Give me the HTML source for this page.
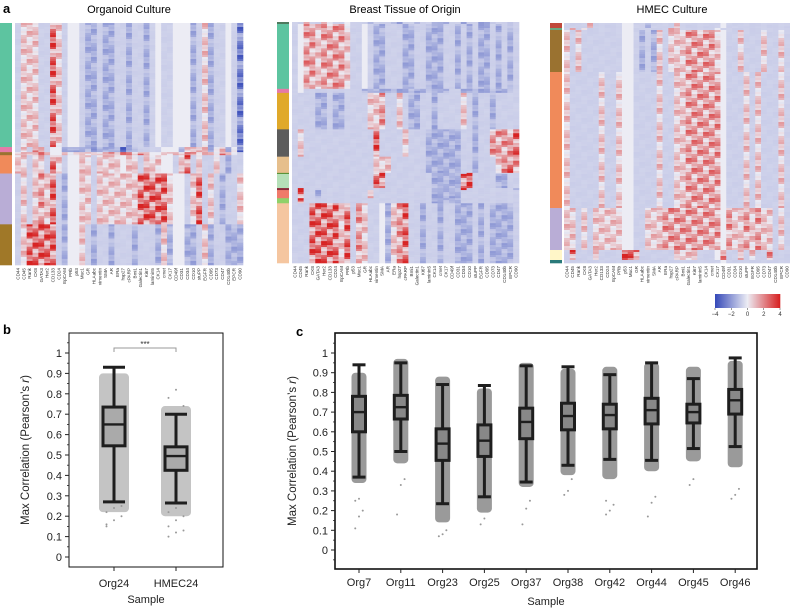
<!DOCTYPE html>
<html><head><meta charset="utf-8"><style>
html,body{margin:0;padding:0;background:#fff;}
svg{display:block;font-family:"Liberation Sans",Arial,sans-serif;}
</style></head><body>
<svg id="fig" width="790" height="611" viewBox="0 0 790 611" xmlns="http://www.w3.org/2000/svg">
<text x="3" y="13" font-size="13" font-weight="bold">a</text>
<text x="3" y="334" font-size="13" font-weight="bold">b</text>
<text x="296" y="336" font-size="13" font-weight="bold">c</text>
<text x="129" y="13" font-size="11" text-anchor="middle">Organoid Culture</text>
<text x="405" y="13" font-size="11" text-anchor="middle">Breast Tissue of Origin</text>
<text x="672" y="13" font-size="11" text-anchor="middle">HMEC Culture</text>
<g id="heat"></g>
<g id="pb"></g>
<g id="pc"></g>
</svg>
<script>
const NS="http://www.w3.org/2000/svg";
function mk(tag,attrs,parent){const e=document.createElementNS(NS,tag);for(const k in attrs)e.setAttribute(k,attrs[k]);parent.appendChild(e);return e;}

// ---------- heatmap data ----------
const markers=["CD44","CD45","Rank","CK8","GATA3","Her2","CD133","CD24","EpCAM","PRb","p53","Muc1","GR","HLAabc","vimentin","SMA","AR","ERa","hsp27","cPARP","Bmi1","Galectin1","Ki67","laminin5","CK14","cmet","CK17","CD49f","CD31","CD34","CD10","stuPP","EGFR","CD95","CD73","CD47","CD140b","EPCR","CD90"];
const levelCodes={B:-2.6,b:-1.5,l:-0.7,w:0,p:0.8,r:1.6,R:2.6};
const orgColors=["#5dc4a0","#e57aa8","#9a7230","#f08a5a","#b9add6","#a07828"];
const orgSizes=[122,5,3,18,50,40];
const orgPatterns=[
"lpppllRplwwlbblbbllbllblwllwwwblpbllwlB",
"lplRplwwbBbbbBbbbbBbbllllwwwbpprpbppbpB",
"pppRrpwwpppppppprrrrrrpwwpprprrpppprppl",
"pplpplRplwwpplppppwpplpppwwlpRlpllplbll",
"lplprpRlbwwpplpppppppRRRRRpwwlpRlplbllp",
"lpRRRRRlbwwplbllblllblllbpbwwbblpbllbbb"];
const brColors=["#4e7a5e","#5dc4a0","#e57aa8","#e0a92a","#5c5c5c","#e6bf8c","#4f8a2a","#b5e0b8","#8a2a3a","#f07a6a","#8fd16a","#f5c6a0"];
const brSizes=[2,64,4,36,27,16,1,14,2,8,5,59];
const brPatterns=[
"llpllppllwlllblllbbllbllbbbllbllbbbllbl",
"lwrrprrrrpllwlbblllbbllbbbllblblbblblbl",
"lwllllllllllbbbbbbbbbbbbbbbllbbbbbbbbbl",
"llllbblbbllllpprllplbbllbllllplbllbllll",
"lpllllllllllllRllllplllbbbbbbllbllrrrrR",
"llllllllllllllpppllllllbbbbbbllblllprRr",
"llllllllllllllpRllllllllbbbbblRllllllll",
"llllllllllllllRRllllllllbbbbbRRllllbbll",
"lRllllllllllllllllllllllbbbbbRllllllllb",
"lRllbllllllllpllllllllllbbbbbllllllllll",
"lRllllllllllllllllllllllbbbbbllllllllll",
"lllRRRRRpRlrpllwbprRllbllbllbbblblbbbbl"];
const hmColors=["#c0483a","#6aa880","#9a7230","#f08a5a","#b9add6","#fff6c8","#2a7a7a"];
const hmSizes=[5,2,42,136,42,10,3];
const hmPatterns=[
"llllplllllwwllbllllplllllllwllllllllll",
"lplpllllllwwllllllppllllllwlllllllllll",
"plplllllllwwlblbplppprrrrrpwllplllpllpl",
"plllllpllpwwllllpllpprrrrrrwlllplplllpl",
"pplplpppppwwllppprrrrrrrrrrwrpprprpplpl",
"lRlllpllllRRRllllllpppplllwrllplpllrlll",
"lllllllllllllllllllllllllllwlllllllllll"];
const rowMod=[0.5,1.3,0.9,1.5,0.3,1.0,1.4,0.7,1.2,0.6,1.1,0.8,1.6,0.4];

function val2col(v){
  const t=Math.max(-4,Math.min(4,v))/4;
  const w=[236,236,244],b=[55,75,185],r=[215,35,35];
  const c=t<0?b:r,a=Math.abs(t);
  return "rgb("+w.map((x,i)=>Math.round(x+(c[i]-x)*a)).join(",")+")";
}

const heat=document.getElementById("heat");
function drawHeat(name,sideX,hx,hx2,y0,y1,colors,sizes,patterns){
  const g=mk("g",{},heat);
  
  
  const tot=sizes.reduce((a,b)=>a+b,0);
  const n=markers.length, cw=(hx2-hx)/n;
  let y=y0;
  sizes.forEach((s,ci)=>{
    const h=s/tot*(y1-y0);
    const sb=mk("rect",{x:sideX,y:y,width:12,height:h+0.3,fill:colors[ci]},g);
    
    
    let p=patterns[ci];
    while(p.length<n)p+="l";
    for(let j=0;j<n;j++){
      const base=levelCodes[p[j]]||0;
      const rows=Math.max(1,Math.round(h/2));
      const rh=h/rows;
      for(let k=0;k<rows;k++){
        const m=rowMod[(k*5+j*3)%rowMod.length];
        const v=base*m+(base===0?0:(m-1)*0.6);
        const c=mk("rect",{x:hx+j*cw,y:y+k*rh,width:cw+0.3,height:rh+0.3,fill:val2col(v)},g);
        
        
      }
    }
    y+=h;
  });
  markers.forEach((m,j)=>{
    const x=hx+(j+0.5)*cw+1.5;
    const t=mk("text",{x:x,y:y1+3,"font-size":4.6,fill:"#333","text-anchor":"end",transform:"rotate(-90 "+x+" "+(y1+3)+")"},g);
    t.textContent=m;
    
    
  });
}
drawHeat("organoid-heatmap",0,15,243,23,265,orgColors,orgSizes,orgPatterns);
drawHeat("breast-heatmap",277,292,519,22,263,brColors,brSizes,brPatterns);
drawHeat("hmec-heatmap",550,564,790,23,263,hmColors,hmSizes,hmPatterns);

const cbTicks=[-4,-2,0,2,4];
(function(){
  const g=mk("g",{},heat);
  
  
  const x0=715,x1=780;
  for(let i=0;i<65;i++){
    const v=-4+8*i/64;
    mk("rect",{x:x0+i,y:294,width:1.3,height:14,fill:val2col(v)},g);
  }
  cbTicks.forEach(t=>{
    const x=x0+(t+4)/8*(x1-x0);
    mk("line",{x1:x,x2:x,y1:308,y2:310,stroke:"#333","stroke-width":0.5},g);
    const tx=mk("text",{x:x,y:316,"font-size":6,"text-anchor":"middle",fill:"#333"},g);
    tx.textContent=t===0?"0":(t<0?"\u2212"+(-t):t);
    
    
  });
})();

// ---------- box plot data ----------
const bCats=["Org24","HMEC24"];
const bLow=[0.27,0.265], bQ1=[0.545,0.425], bMed=[0.65,0.495], bQ3=[0.735,0.54], bHigh=[0.93,0.70];
const bOutliers=[[0.16,0.18,0.2,0.22,0.24,0.25,0.15],[0.1,0.12,0.13,0.15,0.18,0.2,0.22,0.24,0.74,0.78,0.82]];
const bCloudLo=[0.22,0.2], bCloudHi=[0.9,0.74];
const cCats=["Org7","Org11","Org23","Org25","Org37","Org38","Org42","Org44","Org45","Org46"];
const cLow=[0.37,0.50,0.235,0.27,0.345,0.43,0.46,0.455,0.515,0.525];
const cQ1=[0.60,0.665,0.455,0.475,0.565,0.61,0.615,0.64,0.645,0.69];
const cMed=[0.70,0.725,0.54,0.555,0.65,0.68,0.685,0.71,0.70,0.76];
const cQ3=[0.78,0.785,0.615,0.635,0.72,0.745,0.74,0.77,0.74,0.815];
const cHigh=[0.94,0.95,0.84,0.835,0.935,0.93,0.89,0.95,0.87,0.975];
const cCloudLo=[0.34,0.44,0.14,0.19,0.32,0.38,0.36,0.40,0.45,0.42];
const cCloudHi=[0.9,0.97,0.88,0.82,0.95,0.92,0.93,0.95,0.93,0.96];
const cOutliers=[[0.11,0.17,0.2,0.25,0.26],[0.18,0.33,0.36],[0.07,0.08,0.1],[0.13,0.16,0.2],[0.13,0.21,0.25],[0.28,0.3,0.36],[0.18,0.2,0.23,0.25],[0.17,0.24,0.27],[0.33,0.36],[0.26,0.28,0.31]];
const yTicks=[0,0.1,0.2,0.3,0.4,0.5,0.6,0.7,0.8,0.9,1];

function boxPanel(gid,box,yScale,xScale,cats,low,q1,med,q3,high,outl,cloudLo,cloudHi,bw,cloudW,cloudFill,fill,lw,labX,lblY,sampleY){
  const g=document.getElementById(gid);
  
  
  const fr=mk("rect",{x:box.x0,y:box.y0,width:box.x1-box.x0,height:box.y1-box.y0,fill:"none",stroke:"#111","stroke-width":gid==="pb"?1:1.6},g);
  
  
  yTicks.forEach(t=>{
    const y=yScale(t);
    mk("line",{x1:box.x0,x2:box.x0-4,y1:y,y2:y,stroke:"#222","stroke-width":1},g);
    const ym=yScale(t+0.05);
    if(ym>box.y0) mk("line",{x1:box.x0,x2:box.x0-2,y1:ym,y2:ym,stroke:"#222","stroke-width":0.8},g);
    const tx=mk("text",{x:box.x0-7,y:y+4,"font-size":11,"text-anchor":"end",fill:"#222"},g);
    tx.textContent=String(t);
    
    
  });
  const ym0=yScale(-0.05); if(ym0<box.y1) mk("line",{x1:box.x0,x2:box.x0-2,y1:ym0,y2:ym0,stroke:"#222","stroke-width":0.8},g);
  const cy=(box.y0+box.y1)/2;
  const yl=mk("text",{x:labX,y:cy,"font-size":11.5,"text-anchor":"middle",fill:"#222",transform:"rotate(-90 "+labX+" "+cy+")"},g);
  yl.innerHTML="Max Correlation (Pearson\u2019s <tspan font-style='italic'>r</tspan>)";
  
  
  const xl=mk("text",{x:(box.x0+box.x1)/2,y:sampleY,"font-size":11,"text-anchor":"middle",fill:"#222"},g);
  xl.textContent="Sample";
  
  
  cats.forEach((c,i)=>{
    const x=xScale(i);
    const cl=mk("rect",{x:x-cloudW/2,y:yScale(cloudHi[i]),width:cloudW,height:yScale(cloudLo[i])-yScale(cloudHi[i]),fill:cloudFill,rx:4},g);
    
    
    outl[i].forEach((v,k)=>{
      const d=mk("circle",{cx:x+((k%3)-1)*cloudW*0.25,cy:yScale(v),r:1,fill:"#999"},g);
      
      
    });
    const wk=mk("line",{x1:x,x2:x,y1:yScale(low[i]),y2:yScale(high[i]),stroke:"#1e1e1e","stroke-width":lw},g);
    
    
    [low[i],high[i]].forEach(v=>{
      const cp=mk("line",{x1:x-bw/2,x2:x+bw/2,y1:yScale(v),y2:yScale(v),stroke:"#1e1e1e","stroke-width":lw},g);
      
      
    });
    const bx=mk("rect",{x:x-bw/2,y:yScale(q3[i]),width:bw,height:yScale(q1[i])-yScale(q3[i]),fill:fill,stroke:"#1e1e1e","stroke-width":lw},g);
    
    
    const md=mk("line",{x1:x-bw/2,x2:x+bw/2,y1:yScale(med[i]),y2:yScale(med[i]),stroke:"#1e1e1e","stroke-width":lw*0.8},g);
    
    
    mk("line",{x1:x,x2:x,y1:box.y1,y2:box.y1+4,stroke:"#222","stroke-width":1},g);
    const tl=mk("text",{x:x,y:lblY,"font-size":11,"text-anchor":"middle",fill:"#222"},g);
    tl.textContent=c;
    
    
  });
  return g;
}
const bBox={x0:69,x1:223,y0:333,y1:567};
const bY=v=>557-v*204, bX=i=>114+i*62;
const gb=boxPanel("pb",bBox,bY,bX,bCats,bLow,bQ1,bMed,bQ3,bHigh,bOutliers,bCloudLo,bCloudHi,22,30,"#c4c4c4","#aaa",3,29,587,603);
(function(){
  const y=bY(1.0)-5;
  const br=mk("path",{d:"M"+bX(0)+" "+(y+4)+"V"+y+"H"+bX(1)+"V"+(y+4),fill:"none",stroke:"#999","stroke-width":1},gb);
  
  
  const st=mk("text",{x:(bX(0)+bX(1))/2,y:y-1,"font-size":8,"text-anchor":"middle",fill:"#333"},gb);
  st.textContent="***";
  
  
})();
const cBox={x0:335,x1:757,y0:333,y1:569};
const cY=v=>550-v*197, cX=i=>359+i*41.8;
const gc=boxPanel("pc",cBox,cY,cX,cCats,cLow,cQ1,cMed,cQ3,cHigh,cOutliers,cCloudLo,cCloudHi,13,15,"#9a9a9a","#888",3,296,586,605);
</script>
</body></html>
